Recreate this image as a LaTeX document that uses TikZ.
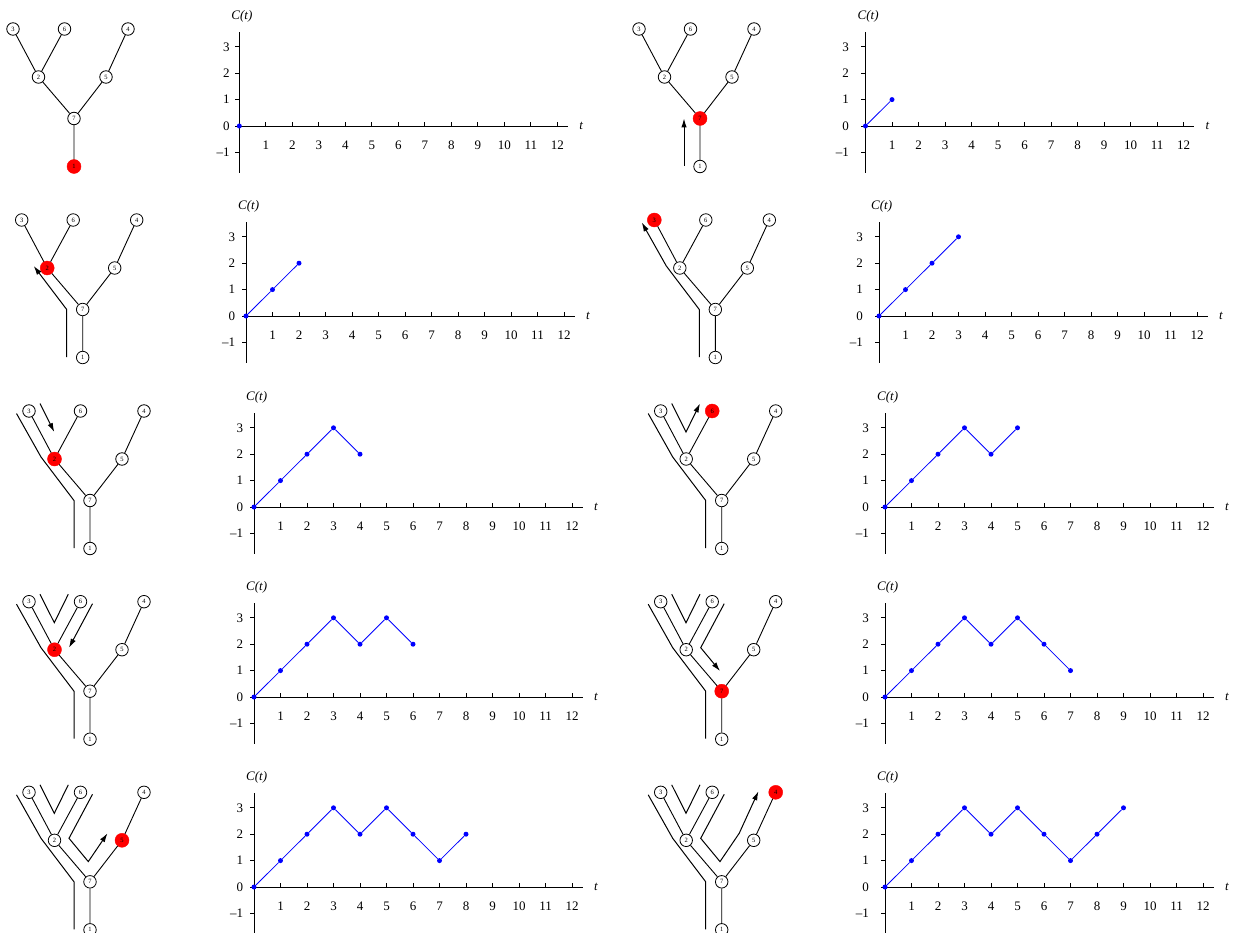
\documentclass[tikz,border=0pt]{standalone}
\usepackage{fontspec}
\setmainfont{Liberation Serif}
\usetikzlibrary{arrows.meta}

\begin{document}
\begin{tikzpicture}[
    x=1pt, y=-1pt,
    vx/.style={circle, draw=black, line width=0.8pt, fill=white, inner sep=0pt, minimum size=12.5pt, font=\fontsize{6.5}{6.5}\selectfont},
    hot/.style={circle, draw=red, fill=red, inner sep=0pt, minimum size=14pt, font=\fontsize{6.5}{6.5}\selectfont},
    edge/.style={line width=0.9pt},
    walk/.style={line width=1pt},
    walkarrow/.style={walk, -{Latex[length=9pt, width=5.5pt]}},
    axis/.style={line width=0.9pt},
    dot/.style={circle, fill=blue, inner sep=0pt, minimum size=5pt},
    trace/.style={blue, line width=0.8pt},
    tick/.style={inner sep=0pt, font=\fontsize{13}{13}\selectfont}
]
\useasboundingbox (0,0) rectangle (1233,933);

\foreach \k/\tx/\ty/\ox/\oy/\gap/\hl/\n/\done/\last in {
    1/13/29/239.3/126/0.36/1/0/{}/{},
    2/639/29/865.5/126/0.62/7/1/{}/{(a0)--(a1)},
    3/21.7/220/246/316/0.4/2/2/{}/{(a0)--(a1)--(a2)},
    4/654.3/220/879/316/0.6/3/3/{}/{(a0)--(a1)--(a2)--(a3)},
    5/29/411/254/507/0.4/2/4/{(a0)--(a1)--(a2)--(a3)}/{(b0)--(b1)},
    6/660.7/411/885/507/0.6/6/5/{(a0)--(a1)--(a2)--(a3)}/{(b0)--(b1)--(b2)},
    7/29/601.7/254/697/0.4/2/6/{(a0)--(a1)--(a2)--(a3) (b0)--(b1)--(b2)}/{(c0)--(c1)},
    8/660.7/601.7/885/697/0.6/7/7/{(a0)--(a1)--(a2)--(a3) (b0)--(b1)--(b2)}/{(c0)--(c1)--(c2)},
    9/29/792.3/254/887/0.4/5/8/{(a0)--(a1)--(a2)--(a3) (b0)--(b1)--(b2)}/{(c0)--(c1)--(c2)--(c3)},
    10/660.7/792.3/885/887/0.6/4/9/{(a0)--(a1)--(a2)--(a3) (b0)--(b1)--(b2)}/{(c0)--(c1)--(c2)--(c3)--(c4)}}{

  % tree and contour walk
  \begin{scope}[shift={(\tx,\ty)}]
    \foreach \v/\vx/\vy in {3/0/0, 6/51.5/0, 4/115/0, 2/25.5/48, 5/93/48, 7/61/89.5, 1/61/137.5}{
      \ifnum\v=\hl
        \node[hot] (p\k-\v) at (\vx,\vy) {\v};
      \else
        \node[vx] (p\k-\v) at (\vx,\vy) {\v};
      \fi
    }
    \draw[edge] (p\k-3) -- (p\k-2) -- (p\k-6) (p\k-2) -- (p\k-7) -- (p\k-5) -- (p\k-4) (p\k-7) -- (p\k-1);

    \coordinate (a0) at (45,137);
    \coordinate (a1) at (45,89.5);
    \coordinate (a2) at (12,46);
    \coordinate (a3) at (-12.5,2.5);
    \coordinate (b0) at (11,-7.5);
    \coordinate (b1) at (25.3,21);
    \coordinate (b2) at (39.3,-7.5);
    \coordinate (c0) at (63.5,2);
    \coordinate (c1) at (40,46);
    \coordinate (c2) at (59.3,69.3);
    \coordinate (c3) at (78.5,41);
    \coordinate (c4) at (97.7,-1);
    \draw[walk] \done;
    \draw[walkarrow] \last;
  \end{scope}

  % contour function C(t)
  \begin{scope}[shift={(\ox,\oy)}, x=26.5pt, y=26.4pt]
    \draw[axis] (0,-1.77) -- (0,3.57);
    \draw[axis] (0,0) -- (12.4,0);
    \foreach \i in {1,...,12}{
      \draw[axis] (\i,0) -- (\i,0.16);
      \node[tick] (x\k-\i) at (\i,-0.72) {\i};
    }
    \foreach \j/\lab in {-1/{\textendash1}, 0/0, 1/1, 2/2, 3/3}{
      \draw[axis] (0,\j) -- (-0.16,\j);
      \node[tick, anchor=east] (y\k-\j) at (-\gap,\j) {\lab};
    }
    \node[tick] (t\k) at (12.9,0) {\itshape t};
    \node[tick] (c\k) at (0.1,4.17) {\itshape C(t)};

    \foreach \t in {0,...,\n}{
      \pgfmathtruncatemacro\c{{0,1,2,3,2,3,2,1,2,3}[\t]}
      \node[dot] (q\k-\t) at (\t,\c) {};
    }
    \ifnum\n>0
      \foreach \t [remember=\t as \s (initially 0)] in {1,...,\n}{
        \draw[trace] (q\k-\s) -- (q\k-\t);
      }
    \fi
  \end{scope}
}
\end{tikzpicture}
\end{document}
